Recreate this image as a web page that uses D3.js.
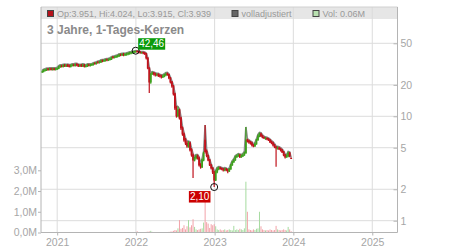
<!DOCTYPE html>
<html>
<head>
<meta charset="utf-8">
<script src="https://cdn.jsdelivr.net/npm/d3@7"></script>
<style>
  body { margin: 0; background: #fff; }
  text { font-family: "Liberation Sans", Arial, sans-serif; }
</style>
</head>
<body>
<div id="chart"></div>
<script>
// weekly candles (prices in EUR, volume in millions)
const opens = [
  26.5, 26.9, 27.5, 27.8, 28.4, 28.1, 28.5, 28.0, 28.5, 28.1,
  28.4, 28.7, 29.7, 30.4, 30.0, 30.8, 30.2, 30.8, 30.4, 30.0,
  30.7, 31.1, 30.6, 31.4, 31.0, 30.3, 30.8, 30.3, 31.0, 30.0,
  30.3, 31.1, 30.7, 31.1, 31.3, 32.2, 32.0, 32.9, 32.8, 33.1,
  34.2, 33.9, 34.2, 34.9, 34.6, 35.0, 35.4, 36.9, 36.6, 37.0,
  37.4, 37.8, 39.0, 38.7, 39.2, 38.7, 39.1, 39.5, 39.9, 40.4,
  40.8, 41.3, 41.6, 42.1, 41.8, 41.3, 40.5, 40.9, 40.4, 39.9,
  36.2, 29.0, 21.3, 25.4, 26.0, 25.4, 24.9, 25.1, 24.6, 24.3,
  23.8, 24.3, 24.9, 25.6, 25.1, 23.3, 21.3, 19.5, 16.4, 12.0,
  10.1, 11.5, 9.63, 7.73, 6.77, 5.93, 5.55, 5.19, 5.55, 4.76,
  4.26, 3.81, 3.99, 4.17, 3.99, 3.42, 3.27, 3.81, 5.90, 4.60,
  4.20, 3.81, 3.42, 3.20, 2.93, 2.45, 2.93, 3.13, 3.22, 3.16,
  3.13, 3.06, 3.13, 3.06, 2.99, 3.13, 3.42, 3.65, 3.81, 4.08,
  4.17, 4.26, 4.08, 4.17, 4.26, 4.45, 5.93, 5.80, 5.67, 5.55,
  5.31, 5.19, 5.43, 5.93, 6.48, 6.77, 6.48, 6.26, 6.10, 6.13,
  6.06, 5.93, 5.67, 5.55, 5.31, 5.08, 4.90, 4.97, 4.86, 4.76,
  4.55, 4.26, 4.08, 4.17, 4.45, 3.951
];
const highs = [
  27.6, 28.2, 28.6, 28.9, 29.0, 29.1, 29.2, 29.1, 29.2, 29.1,
  29.4, 30.5, 31.2, 31.2, 31.5, 31.6, 31.5, 31.6, 31.3, 31.5,
  31.8, 31.8, 32.1, 32.2, 31.7, 31.5, 31.6, 31.8, 31.7, 31.1,
  31.8, 31.8, 31.8, 32.1, 32.6, 33.0, 33.3, 33.8, 34.0, 34.8,
  35.0, 35.1, 35.5, 35.8, 35.9, 36.4, 37.2, 37.8, 38.0, 38.4,
  38.8, 39.7, 39.9, 40.2, 40.3, 40.2, 40.6, 41.0, 41.5, 41.8,
  42.2, 42.3, 42.46, 42.4, 42.3, 41.9, 41.6, 41.6, 41.2, 40.3,
  36.5, 29.5, 26.0, 26.8, 26.6, 26.1, 25.8, 25.8, 25.3, 25.0,
  25.0, 25.6, 26.2, 26.3, 25.6, 23.8, 21.8, 19.9, 16.8, 12.6,
  12.4, 11.8, 9.9, 8.0, 7.0, 6.2, 5.8, 5.8, 5.7, 4.95,
  4.40, 4.10, 4.30, 4.30, 4.10, 3.55, 3.95, 4.60, 8.26, 4.80,
  4.30, 3.90, 3.50, 3.25, 3.00, 3.05, 3.25, 3.30, 3.28, 3.24,
  3.20, 3.22, 3.20, 3.12, 3.20, 3.50, 3.75, 3.92, 4.20, 4.30,
  4.40, 4.35, 4.30, 4.40, 4.60, 7.90, 6.10, 5.95, 5.80, 5.70,
  5.40, 5.60, 6.10, 6.70, 7.00, 6.95, 6.65, 6.45, 6.35, 6.30,
  6.20, 6.05, 5.85, 5.70, 5.45, 5.20, 5.15, 5.10, 5.00, 4.85,
  4.65, 4.35, 4.30, 4.60, 4.55, 4.024
];
const lows = [
  26.0, 26.3, 26.9, 27.2, 27.3, 27.5, 27.4, 27.4, 27.5, 27.4,
  27.8, 28.2, 29.1, 29.3, 29.3, 29.6, 29.6, 29.6, 29.3, 29.3,
  30.0, 30.0, 30.0, 30.2, 29.6, 29.6, 29.6, 29.6, 29.3, 29.3,
  29.6, 30.0, 30.0, 30.3, 30.6, 31.2, 31.3, 31.8, 32.0, 32.4,
  32.9, 33.1, 33.4, 33.6, 33.8, 34.2, 34.6, 35.6, 35.8, 36.1,
  36.5, 37.0, 37.6, 37.7, 37.6, 37.7, 38.1, 38.5, 38.8, 39.3,
  39.8, 40.2, 40.6, 40.6, 40.2, 39.7, 39.6, 39.3, 38.6, 35.0,
  28.2, 16.7, 20.5, 25.0, 24.6, 24.1, 24.2, 23.8, 23.5, 23.0,
  23.2, 23.6, 24.2, 24.4, 22.6, 20.6, 18.8, 15.8, 11.5, 9.7,
  9.8, 9.3, 7.4, 6.5, 5.7, 5.3, 5.0, 5.0, 4.6, 4.1,
  2.56, 3.70, 3.85, 3.85, 3.30, 3.15, 3.20, 3.70, 4.40, 4.05,
  3.70, 3.35, 3.10, 2.80, 2.10, 2.40, 2.85, 3.05, 3.08, 3.05,
  2.96, 2.98, 2.97, 2.85, 2.92, 3.08, 3.36, 3.58, 3.75, 4.00,
  4.10, 3.98, 4.00, 4.08, 4.18, 4.40, 5.60, 5.45, 5.35, 5.15,
  5.05, 5.10, 5.35, 5.85, 6.30, 6.35, 6.15, 6.05, 5.95, 5.90,
  5.80, 5.55, 5.40, 5.15, 4.95, 3.29, 4.80, 4.75, 4.60, 4.45,
  4.15, 3.95, 4.00, 4.05, 4.05, 3.915
];
const closes = [
  26.9, 27.5, 27.8, 28.1, 28.1, 28.4, 28.1, 28.4, 28.1, 28.4,
  28.7, 29.7, 30.3, 30.0, 30.7, 30.3, 30.7, 30.3, 30.0, 30.7,
  31.0, 30.7, 31.3, 31.0, 30.3, 30.7, 30.3, 31.0, 30.0, 30.3,
  31.0, 30.7, 31.0, 31.3, 31.7, 32.0, 32.4, 32.8, 33.1, 33.9,
  33.9, 34.2, 34.6, 34.6, 35.0, 35.4, 36.2, 36.6, 37.0, 37.4,
  37.8, 38.7, 38.7, 39.1, 38.7, 39.1, 39.5, 39.9, 40.4, 40.8,
  41.3, 41.8, 42.0, 41.8, 41.3, 40.8, 40.8, 40.4, 39.9, 36.2,
  29.0, 21.3, 25.4, 26.0, 25.4, 24.9, 25.1, 24.6, 24.3, 23.8,
  24.3, 24.9, 25.4, 25.1, 23.3, 21.3, 19.5, 16.4, 12.0, 10.1,
  11.5, 9.63, 7.73, 6.77, 5.93, 5.55, 5.19, 5.55, 4.76, 4.26,
  3.81, 3.99, 4.17, 3.99, 3.42, 3.27, 3.81, 4.45, 4.60, 4.20,
  3.81, 3.42, 3.20, 2.93, 2.45, 2.93, 3.13, 3.20, 3.16, 3.13,
  3.06, 3.13, 3.06, 2.99, 3.13, 3.42, 3.65, 3.81, 4.08, 4.17,
  4.26, 4.08, 4.17, 4.26, 4.45, 5.93, 5.80, 5.67, 5.55, 5.31,
  5.19, 5.43, 5.93, 6.48, 6.77, 6.48, 6.26, 6.20, 6.13, 6.06,
  5.93, 5.67, 5.55, 5.31, 5.08, 4.97, 4.97, 4.86, 4.76, 4.55,
  4.26, 4.08, 4.17, 4.45, 4.17, 3.939
];
const volumes = [
  0.01, 0.01, 0.01, 0.01, 0.01, 0.01, 0.01, 0.01, 0.01, 0.01,
  0.01, 0.01, 0.01, 0.01, 0.01, 0.01, 0.01, 0.01, 0.01, 0.01,
  0.01, 0.01, 0.01, 0.01, 0.01, 0.01, 0.01, 0.01, 0.01, 0.01,
  0.01, 0.01, 0.01, 0.01, 0.01, 0.01, 0.01, 0.01, 0.01, 0.01,
  0.01, 0.01, 0.01, 0.01, 0.01, 0.01, 0.01, 0.01, 0.01, 0.01,
  0.01, 0.01, 0.01, 0.01, 0.01, 0.01, 0.01, 0.01, 0.01, 0.01,
  0.01, 0.01, 0.02, 0.06, 0.02, 0.02, 0.01, 0.01, 0.02, 0.03,
  0.04, 0.05, 0.08, 0.03, 0.02, 0.02, 0.02, 0.02, 0.02, 0.02,
  0.02, 0.02, 0.02, 0.02, 0.03, 0.04, 0.05, 0.08, 0.12, 0.10,
  0.20, 0.60, 0.18, 0.22, 0.35, 0.15, 0.30, 0.60, 0.25, 0.35,
  0.64, 0.27, 0.15, 0.12, 0.15, 0.18, 0.20, 0.48, 1.60, 0.50,
  0.43, 0.22, 0.40, 0.35, 0.40, 0.30, 0.15, 0.12, 0.15, 0.10,
  0.12, 0.15, 0.10, 0.12, 0.15, 0.12, 0.10, 0.32, 0.12, 0.15,
  0.12, 0.18, 0.15, 0.12, 0.20, 2.45, 1.00, 0.15, 0.12, 0.10,
  0.15, 0.12, 0.18, 0.20, 1.00, 0.30, 0.15, 0.12, 0.10, 0.12,
  0.10, 0.15, 0.12, 0.10, 0.12, 0.32, 0.15, 0.12, 0.10, 0.12,
  0.15, 0.12, 0.10, 0.27, 0.15, 0.06
];
const firstWeek = new Date(2020, 9, 23);
const priceTicks = [1, 2, 5, 10, 20, 50];
const volTicks = [0, 1, 2, 3];
const yearTicks = [2021, 2022, 2023, 2024, 2025];
const title = "3 Jahre, 1-Tages-Kerzen";
const legendItems = [
  { label: "Op:3.951, Hi:4.024, Lo:3.915, Cl:3.939", color: "#b5121b" },
  { label: "volladjustiert", color: "#666666" },
  { label: "Vol: 0.06M", color: "#b8e0b0" }
];

const width = 450, height = 250;
const frame = { left: 41, right: 397.5, top: 7, bottom: 232.5, band: 19 };
const upColor = "#3ea01e", downColor = "#c0121c";
const upVol = "#a6dba0", downVol = "#f2a3a9";

const data = closes.map((c, i) => ({
  date: d3.timeDay.offset(firstWeek, 7 * i),
  open: opens[i], high: highs[i], low: lows[i], close: c, vol: volumes[i]
}));

const svg = d3.select("#chart").append("svg")
  .attr("width", width)
  .attr("height", height);

const x = d3.scaleTime()
  .domain([new Date(2020, 9, 18), new Date(2025, 3, 28)])
  .range([frame.left, frame.right]);

const y = d3.scaleLog()
  .domain([1, 50])
  .range([220.7, 43.3]);

const yVol = d3.scaleLinear()
  .domain([0, 3])
  .range([frame.bottom, 170.3]);

// header band
svg.append("rect")
  .attr("x", frame.left).attr("y", frame.top)
  .attr("width", frame.right - frame.left).attr("height", frame.band - frame.top)
  .attr("fill", "#e6e6e6");

// grid
const yearDates = yearTicks.map(yr => new Date(yr, 0, 1));
svg.append("g").selectAll("line")
  .data(yearDates)
  .enter().append("line")
  .attr("x1", d => x(d)).attr("x2", d => x(d))
  .attr("y1", frame.top).attr("y2", frame.bottom)
  .attr("stroke", "#dcdcdc");

svg.append("g").selectAll("line")
  .data(priceTicks)
  .enter().append("line")
  .attr("x1", frame.left).attr("x2", frame.right)
  .attr("y1", d => y(d)).attr("y2", d => y(d))
  .attr("stroke", "#dcdcdc");

// volume
svg.append("g").selectAll("rect")
  .data(data)
  .enter().append("rect")
  .attr("x", d => x(d.date) - 0.5)
  .attr("width", 1)
  .attr("y", d => yVol(d.vol))
  .attr("height", d => frame.bottom - yVol(d.vol))
  .attr("fill", d => d.close >= d.open ? upVol : downVol);

// adjusted line
svg.append("path")
  .datum(data)
  .attr("fill", "none")
  .attr("stroke", "#8c8c8c")
  .attr("stroke-width", 1.6)
  .attr("d", d3.line().x(d => x(d.date)).y(d => y(d.high)));

// candles
const candles = svg.append("g").selectAll("g")
  .data(data)
  .enter().append("g");

candles.append("line")
  .attr("x1", d => x(d.date)).attr("x2", d => x(d.date))
  .attr("y1", d => y(d.high)).attr("y2", d => y(d.low))
  .attr("stroke", d => d.close >= d.open ? upColor : downColor)
  .attr("stroke-width", 1.2);

candles.append("rect")
  .attr("x", d => x(d.date) - 0.9)
  .attr("width", 1.8)
  .attr("y", d => y(Math.max(d.open, d.close)) - 0.5)
  .attr("height", d => Math.abs(y(d.open) - y(d.close)) + 1)
  .attr("fill", d => d.close >= d.open ? upColor : downColor);

// axes
const axisColor = "#b4b4b4", labelColor = "#a6a6a6";
function styleAxis(g) {
  g.selectAll(".tick line").attr("stroke", axisColor);
  g.selectAll("text").attr("fill", labelColor).attr("font-size", "10.5px")
    .attr("font-family", "'Liberation Sans', Arial, sans-serif");
}

const yAxis = d3.axisRight(y)
  .tickValues(priceTicks)
  .tickSize(-4)
  .tickPadding(3)
  .tickFormat(d3.format("d"));
svg.append("g")
  .attr("transform", "translate(" + frame.right + ",0)")
  .call(yAxis)
  .call(g => g.select(".domain").remove())
  .call(styleAxis);

const volAxis = d3.axisLeft(yVol)
  .tickValues(volTicks)
  .tickSize(3)
  .tickPadding(1)
  .tickFormat(d => d.toFixed(1).replace(".", ",") + "M");
svg.append("g")
  .attr("transform", "translate(" + frame.left + ",0)")
  .call(volAxis)
  .call(g => g.select(".domain").remove())
  .call(styleAxis);

const xAxis = d3.axisBottom(x)
  .tickValues(yearDates)
  .tickSize(3)
  .tickPadding(3)
  .tickFormat(d3.timeFormat("%Y"));
svg.append("g")
  .attr("transform", "translate(0," + frame.bottom + ")")
  .call(xAxis)
  .call(g => g.select(".domain").remove())
  .call(styleAxis);

// frame lines
svg.append("path")
  .attr("d", `M${frame.left},${frame.top}H${frame.right}`)
  .attr("stroke", "#d0d0d0");
svg.append("path")
  .attr("d", `M${frame.left},${frame.top}V${frame.bottom}H${frame.right}V${frame.top}`)
  .attr("fill", "none")
  .attr("stroke", "#b4b4b4");

// legend in header
const legendX = [47, 231.5, 312.5];
const legend = svg.append("g").selectAll("g")
  .data(legendItems)
  .enter().append("g")
  .attr("transform", (d, i) => "translate(" + legendX[i] + ",0)");
legend.append("rect")
  .attr("x", 0.5).attr("y", 10.5)
  .attr("width", 6).attr("height", 6)
  .attr("fill", d => d.color)
  .attr("stroke", "#444");
legend.append("text")
  .attr("x", 10).attr("y", 17)
  .attr("font-size", "9px")
  .attr("fill", "#999")
  .text(d => d.label);

svg.append("text")
  .attr("x", 47).attr("y", 33.5)
  .attr("font-size", "12px")
  .attr("font-weight", "bold")
  .attr("fill", "#8a8a8a")
  .text(title);

// max / min markers
const fmt = v => v.toFixed(2).replace(".", ",");
const iMax = d3.maxIndex(highs), iMin = d3.minIndex(lows);
const maxPt = { cx: x(data[iMax].date), cy: y(highs[iMax]) };
const minPt = { cx: x(data[iMin].date), cy: y(lows[iMin]) };

[maxPt, minPt].forEach(p => {
  svg.append("circle")
    .attr("cx", p.cx).attr("cy", p.cy).attr("r", 3.5)
    .attr("fill", "none").attr("stroke", "#111").attr("stroke-width", 1);
});

svg.append("rect")
  .attr("x", maxPt.cx + 2.5).attr("y", maxPt.cy - 12.5)
  .attr("width", 27).attr("height", 11.5)
  .attr("fill", "#0a9a0a");
svg.append("text")
  .attr("x", maxPt.cx + 16).attr("y", maxPt.cy - 3.3)
  .attr("text-anchor", "middle")
  .attr("font-size", "10px")
  .attr("fill", "#fff")
  .text(fmt(highs[iMax]));

svg.append("rect")
  .attr("x", minPt.cx - 25.3).attr("y", minPt.cy + 4)
  .attr("width", 21.6).attr("height", 11.5)
  .attr("fill", "#cc0000");
svg.append("text")
  .attr("x", minPt.cx - 14.5).attr("y", minPt.cy + 13.2)
  .attr("text-anchor", "middle")
  .attr("font-size", "10px")
  .attr("fill", "#fff")
  .text(fmt(lows[iMin]));
</script>
</body>
</html>
